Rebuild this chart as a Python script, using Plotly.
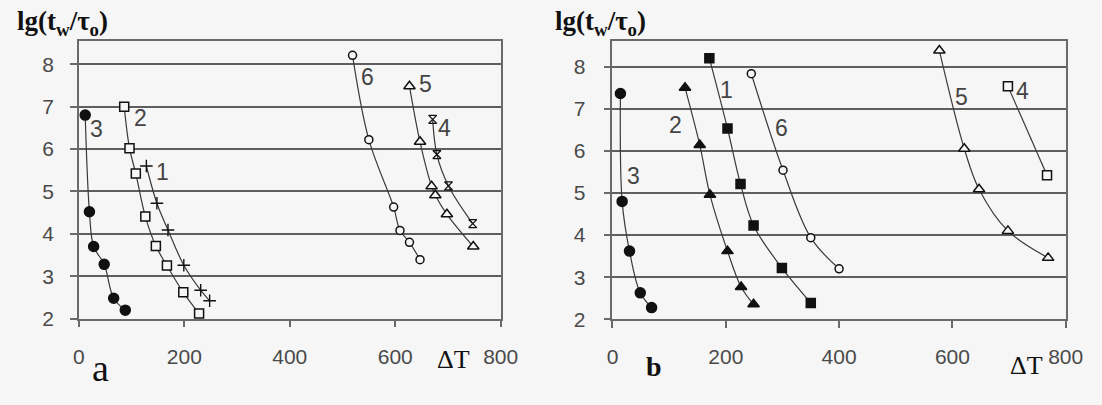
import plotly.graph_objects as go

# ---------------- data ----------------
# panel a
a1_x = [128, 148, 169, 199, 231, 248]
a1_y = [5.6, 4.72, 4.09, 3.26, 2.67, 2.42]
a2_x = [86, 96, 108, 126, 146, 167, 198, 228]
a2_y = [7.0, 6.02, 5.42, 4.41, 3.71, 3.25, 2.62, 2.12]
a3_x = [12, 20, 28, 48, 66, 88]
a3_y = [6.8, 4.52, 3.7, 3.28, 2.48, 2.2]
a4_x = [671, 679, 701, 747]
a4_y = [6.7, 5.87, 5.13, 4.24]
a5_x = [627, 647, 669, 676, 698, 748]
a5_y = [7.48, 6.17, 5.12, 4.91, 4.46, 3.70]
a6_x = [519, 550, 597, 609, 627, 647]
a6_y = [8.21, 6.22, 4.63, 4.08, 3.80, 3.39]

# panel b
b1_x = [171, 203, 226, 249, 299, 350]
b1_y = [8.2, 6.53, 5.21, 4.23, 3.22, 2.39]
b2_x = [128, 154, 172, 203, 227, 249]
b2_y = [7.5, 6.14, 4.96, 3.62, 2.77, 2.36]
b3_x = [14, 17, 30, 49, 69]
b3_y = [7.36, 4.8, 3.62, 2.63, 2.28]
b4_x = [698, 767]
b4_y = [7.53, 5.42]
b5_x = [577, 621, 647, 698, 769]
b5_y = [8.38, 6.05, 5.09, 4.1, 3.46]
b6_x = [245, 301, 350, 400]
b6_y = [7.83, 5.54, 3.94, 3.2]

# curve number labels: (text, x, y)
labels_a = [("3", 33, 6.48), ("2", 116, 6.74), ("1", 159, 5.45),
            ("6", 548, 7.7), ("5", 657, 7.54), ("4", 694, 6.5)]
labels_b = [("1", 201, 7.44), ("2", 112, 6.62), ("6", 299, 6.53),
            ("3", 37, 5.41), ("5", 616, 7.28), ("4", 724, 7.41)]

x_ticks = [0, 200, 400, 600, 800]
y_ticks = [2, 3, 4, 5, 6, 7, 8]

W, H = 1102, 405
LINE = "#3a3a3a"
MK = "#111111"
BG = "#f6f6f6"

fig = go.Figure()


def add(xs, ys, symbol, size, xa, ya, filled=True, lw=1.5):
    fig.add_trace(go.Scatter(
        x=xs, y=ys, xaxis=xa, yaxis=ya, mode="lines+markers",
        line=dict(color=LINE, width=1.2, shape="spline", smoothing=1.0),
        marker=dict(symbol=symbol, size=size,
                    color=MK if filled else BG,
                    line=dict(color=MK, width=lw)),
        showlegend=False, cliponaxis=False))


# panel a
add(a3_x, a3_y, "circle", 10, "x", "y")
add(a2_x, a2_y, "square", 9, "x", "y", filled=False)
add(a1_x, a1_y, "cross-thin-open", 9, "x", "y", lw=1.4)
add(a6_x, a6_y, "circle", 8, "x", "y", filled=False)
add(a5_x, a5_y, "triangle-up", 10, "x", "y", filled=False)
add(a4_x, a4_y, "hourglass-open", 8, "x", "y", lw=1.3)

# panel b
add(b3_x, b3_y, "circle", 10, "x2", "y2")
add(b2_x, b2_y, "triangle-up", 10, "x2", "y2")
add(b1_x, b1_y, "square", 9, "x2", "y2")
add(b6_x, b6_y, "circle", 8, "x2", "y2", filled=False)
add(b5_x, b5_y, "triangle-up", 10, "x2", "y2", filled=False)
add(b4_x, b4_y, "square", 9, "x2", "y2", filled=False)

tickfont = dict(family="Liberation Sans, Arial", size=21, color="#4a4a4a")
axcommon = dict(showline=True, linecolor="#6a6a6a", linewidth=1.5, mirror=True,
                ticks="outside", ticklen=7, tickcolor="#6a6a6a", tickwidth=1.5,
                tickfont=tickfont, zeroline=False, fixedrange=True)

fig.update_layout(
    width=W, height=H,
    margin=dict(l=0, r=0, t=0, b=0),
    paper_bgcolor=BG, plot_bgcolor=BG,
    xaxis=dict(domain=[74.5 / W, 505.7 / W], range=[0, 800], tickvals=x_ticks,
               showgrid=False, anchor="y", ticklabelstandoff=11, **axcommon),
    yaxis=dict(domain=[1 - 327.5 / H, 1 - 42.5 / H], range=[2, 8.54], tickvals=y_ticks,
               showgrid=True, gridcolor="#5e5e5e", gridwidth=1.8, anchor="x",
               ticklabelstandoff=12, **axcommon),
    xaxis2=dict(domain=[620 / W, 1083.3 / W], range=[0, 800], tickvals=x_ticks,
                showgrid=False, anchor="y2", ticklabelstandoff=11, **axcommon),
    yaxis2=dict(domain=[1 - 328.3 / H, 1 - 42 / H], range=[2, 8.61], tickvals=y_ticks,
                showgrid=True, gridcolor="#5e5e5e", gridwidth=1.8, anchor="x2",
                ticklabelstandoff=14, **axcommon),
)

ann = []
lblfont = dict(family="Liberation Sans, Arial", size=23, color="#444")
for t, x, y in labels_a:
    ann.append(dict(text=t, x=x, y=y, xref="x", yref="y", showarrow=False, font=lblfont))
for t, x, y in labels_b:
    ann.append(dict(text=t, x=x, y=y, xref="x2", yref="y2", showarrow=False, font=lblfont))

serif = "Liberation Serif, Times New Roman"


def pann(text, px, py, size, bold=False):
    ann.append(dict(text=("<b>%s</b>" % text) if bold else text,
                    x=px / W, y=1 - py / H, xref="paper", yref="paper",
                    xanchor="center", yanchor="middle", showarrow=False,
                    font=dict(family=serif, size=size, color="#111")))


title = "lg(t<sub>w</sub>/τ<sub>o</sub>)"
pann(title, 58, 24, 27, bold=True)
pann(title, 608, 24, 27, bold=True)
pann("a", 97, 378, 38)
pann("b", 662, 377, 28, bold=True)
pann("ΔT", 457, 370, 26)
pann("ΔT", 1043, 376, 26)

fig.update_layout(annotations=ann)
fig.write_html("out.html")
